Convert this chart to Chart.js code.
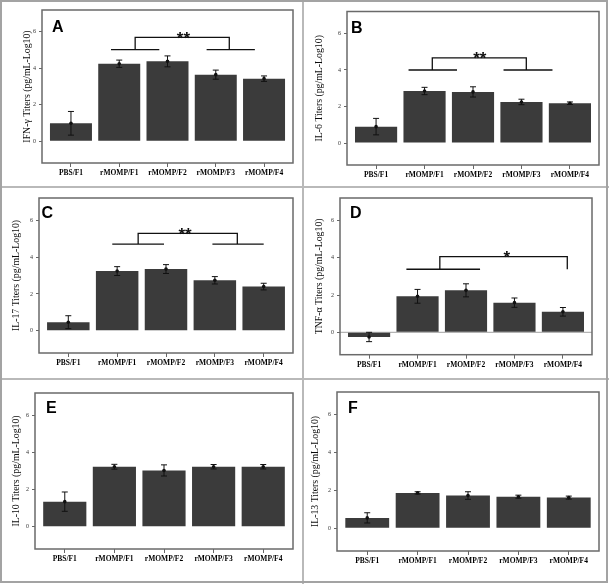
<!DOCTYPE html>
<html>
<head>
<meta charset="utf-8">
<script src="https://cdn.jsdelivr.net/npm/chart.js@4.4.1/dist/chart.umd.min.js"></script>
<style>
body { margin: 0; background: #fff; }
#fig { position: relative; width: 609px; height: 584px; overflow: hidden; }
#fig canvas { position: absolute; }
.rule { position: absolute; background: #b9b9b9; z-index: 2; }
.frame { position: absolute; left: 0; top: 0; width: 608px; height: 583px; box-sizing: border-box; border: 2px solid #a3a3a3; z-index: 3; }
</style>
</head>
<body>
<div id="fig">
  <canvas id="pA" width="302" height="186" style="left:0;top:0"></canvas>
  <canvas id="pB" width="305" height="186" style="left:304px;top:0"></canvas>
  <canvas id="pC" width="302" height="190" style="left:0;top:188px"></canvas>
  <canvas id="pD" width="305" height="190" style="left:304px;top:188px"></canvas>
  <canvas id="pE" width="302" height="204" style="left:0;top:380px"></canvas>
  <canvas id="pF" width="305" height="204" style="left:304px;top:380px"></canvas>
  <div class="rule" style="left:302px;top:0;width:2px;height:584px"></div>
  <div class="rule" style="left:0;top:186px;width:609px;height:2px"></div>
  <div class="rule" style="left:0;top:378px;width:609px;height:2px"></div>
  <div class="frame"></div>
</div>
<script>
const groups = ['PBS/F1', 'rMOMP/F1', 'rMOMP/F2', 'rMOMP/F3', 'rMOMP/F4'];
const yTicks = [0, 2, 4, 6];

const ifnMean  = [0.98, 4.25, 4.38, 3.65, 3.43];
const ifnErr   = [0.65, 0.20, 0.30, 0.25, 0.15];
const il6Mean  = [0.90, 2.85, 2.80, 2.25, 2.18];
const il6Err   = [0.45, 0.20, 0.28, 0.15, 0.07];
const il17Mean = [0.47, 3.24, 3.35, 2.74, 2.40];
const il17Err  = [0.35, 0.24, 0.24, 0.20, 0.18];
const tnfMean  = [-0.25, 1.93, 2.25, 1.59, 1.10];
const tnfErr   = [0.25, 0.37, 0.35, 0.25, 0.23];
const il10Mean = [1.35, 3.23, 3.03, 3.23, 3.23];
const il10Err  = [0.52, 0.13, 0.30, 0.12, 0.12];
const il13Mean = [0.55, 1.87, 1.73, 1.67, 1.62];
const il13Err  = [0.27, 0.06, 0.20, 0.08, 0.08];

// significance brackets, in axis units
const sigA = { segL: [1.83, 2.83], segR: [3.81, 4.81], midL: 2.33, midR: 4.28, y: 5.03, top: 5.7, text: '**', at: 3.33 };
const sigB = { segL: [1.67, 2.67], segR: [3.63, 4.64], midL: 2.16, midR: 4.10, y: 4.0, top: 4.66, text: '**', at: 3.14 };
const sigC = { segL: [1.90, 2.96], segR: [3.95, 5.0], midL: 2.43, midR: 4.46, y: 4.7, top: 5.28, text: '**', at: 3.39 };
const sigD = { segL: [1.77, 3.29], segR: [5.09, 5.09], midL: 2.46, midR: 5.09, y: 3.38, top: 4.06, text: '*', at: 3.84 };

const extras = {
  id: 'extras',
  beforeDatasetsDraw(chart, args, o) {
    if (!o.zeroLine) return;
    const { ctx, chartArea: a, scales: { y } } = chart;
    const py = y.getPixelForValue(0);
    ctx.save();
    ctx.strokeStyle = '#b4b4b4';
    ctx.lineWidth = 1.2;
    ctx.beginPath();
    ctx.moveTo(a.left, py);
    ctx.lineTo(a.right, py);
    ctx.stroke();
    ctx.restore();
  },
  afterDatasetsDraw(chart, args, o) {
    const { ctx, chartArea: a, scales: { x, y } } = chart;
    const pts = chart.data.datasets[0].data;
    ctx.save();
    ctx.strokeStyle = '#111';
    ctx.fillStyle = '#111';
    ctx.lineWidth = 1;
    pts.forEach((p, i) => {
      const px = x.getPixelForValue(p.x);
      const hi = y.getPixelForValue(p.y + o.errors[i]);
      const lo = y.getPixelForValue(p.y - o.errors[i]);
      ctx.beginPath();
      ctx.moveTo(px, hi); ctx.lineTo(px, lo);
      ctx.moveTo(px - 3, hi); ctx.lineTo(px + 3, hi);
      ctx.moveTo(px - 3, lo); ctx.lineTo(px + 3, lo);
      ctx.stroke();
      ctx.beginPath();
      ctx.arc(px, y.getPixelForValue(p.y), 1.8, 0, Math.PI * 2);
      ctx.fill();
    });

    const b = o.bracket;
    if (b) {
      const yl = y.getPixelForValue(b.y), yt = y.getPixelForValue(b.top);
      ctx.lineWidth = 1.3;
      ctx.beginPath();
      ctx.moveTo(x.getPixelForValue(b.segL[0]), yl); ctx.lineTo(x.getPixelForValue(b.segL[1]), yl);
      ctx.moveTo(x.getPixelForValue(b.segR[0]), yl); ctx.lineTo(x.getPixelForValue(b.segR[1]), yl);
      ctx.moveTo(x.getPixelForValue(b.midL), yl);
      ctx.lineTo(x.getPixelForValue(b.midL), yt);
      ctx.lineTo(x.getPixelForValue(b.midR), yt);
      ctx.lineTo(x.getPixelForValue(b.midR), yl);
      ctx.stroke();
      ctx.font = 'bold 17px "Liberation Sans"';
      ctx.textAlign = 'center';
      ctx.textBaseline = 'alphabetic';
      ctx.fillText(b.text, x.getPixelForValue(b.at), yt + 6.5);
    }

    ctx.strokeStyle = '#6a6a6a';
    ctx.lineWidth = 1.5;
    ctx.strokeRect(a.left, a.top, a.right - a.left, a.bottom - a.top);

    ctx.fillStyle = '#000';
    ctx.font = 'bold 16px "Liberation Sans"';
    ctx.textAlign = 'left';
    ctx.textBaseline = 'alphabetic';
    ctx.fillText(o.letter, a.left + o.letterAt[0], a.top + o.letterAt[1]);
    ctx.restore();
  }
};

function panel(id, title, means, errs, p) {
  new Chart(document.getElementById(id), {
    type: 'bar',
    data: {
      datasets: [{
        data: means.map((v, i) => ({ x: i + 1, y: v })),
        backgroundColor: '#3b3b3b',
        borderWidth: 0,
        barPercentage: 0.87,
        categoryPercentage: 1
      }]
    },
    options: {
      responsive: false,
      animation: false,
      layout: { padding: { left: 0, top: p.top, right: p.right, bottom: 0 } },
      plugins: {
        legend: { display: false },
        tooltip: { enabled: false },
        extras: { errors: errs, bracket: p.sig, letter: p.letter, letterAt: p.letterAt, zeroLine: p.zeroLine }
      },
      scales: {
        x: {
          type: 'linear',
          offset: false,
          min: 0.4,
          max: 5.6,
          afterBuildTicks: s => { s.ticks = groups.map((g, i) => ({ value: i + 1 })); },
          afterFit: s => { s.height = p.xH; },
          grid: { offset: false, drawOnChartArea: false, tickLength: 4, color: '#666' },
          border: { display: false },
          ticks: {
            autoSkip: false, maxRotation: 0, padding: 2, color: '#000',
            font: { family: 'Liberation Serif', size: 7.5, weight: 'bold' },
            callback: v => groups[v - 1]
          }
        },
        y: {
          min: -1.2,
          max: 7.2,
          afterBuildTicks: s => { s.ticks = yTicks.map(v => ({ value: v })); },
          afterFit: s => { s.width = p.yW; },
          grid: { drawOnChartArea: false, tickLength: 3, color: '#666' },
          border: { display: false },
          ticks: { padding: 3, color: '#333', font: { family: 'Liberation Serif', size: 6 } },
          title: {
            display: true, text: title, color: '#0a0a0a',
            font: { family: 'Liberation Serif', size: 9.8 },
            padding: { top: p.titleX - 5.9, bottom: 0 }
          }
        }
      }
    },
    plugins: [extras]
  });
}

panel('pA', 'IFN-γ Titers (pg/mL-Log10)', ifnMean, ifnErr,
  { top: 10, right: 9, yW: 42, xH: 23, titleX: 27, letter: 'A', letterAt: [10, 22], sig: sigA });
panel('pB', 'IL-6 Titers (pg/mL-Log10)', il6Mean, il6Err,
  { top: 11.5, right: 10, yW: 43, xH: 21, titleX: 15, letter: 'B', letterAt: [4, 21], sig: sigB });
panel('pC', 'IL-17 Titers (pg/mL-Log10)', il17Mean, il17Err,
  { top: 10, right: 9, yW: 39, xH: 25, titleX: 16.7, letter: 'C', letterAt: [2.5, 20], sig: sigC });
panel('pD', 'TNF-α Titers (pg/mL-Log10)', tnfMean, tnfErr,
  { top: 10, right: 17, yW: 36, xH: 23.3, titleX: 15.5, letter: 'D', letterAt: [10, 20], sig: sigD, zeroLine: true });
panel('pE', 'IL-10 Titers (pg/mL-Log10)', il10Mean, il10Err,
  { top: 13, right: 9, yW: 35, xH: 35, titleX: 16, letter: 'E', letterAt: [11, 20] });
panel('pF', 'IL-13 Titers (pg/mL-Log10)', il13Mean, il13Err,
  { top: 12, right: 10, yW: 33, xH: 33, titleX: 11.7, letter: 'F', letterAt: [11, 21] });
</script>
</body>
</html>
